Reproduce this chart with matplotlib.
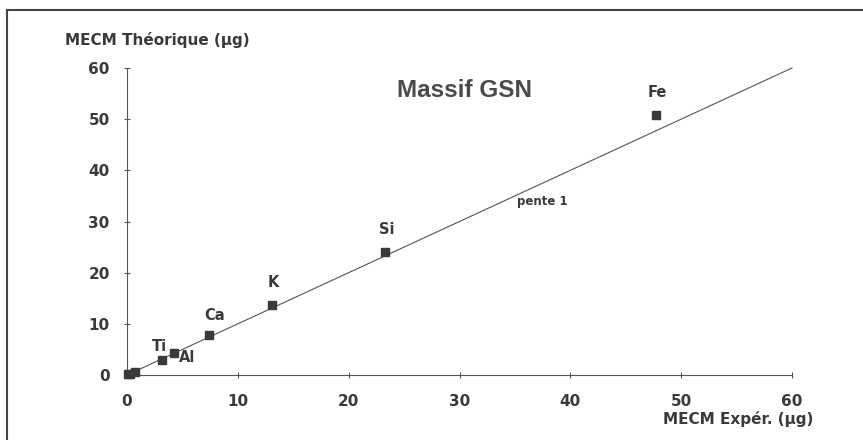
import numpy as np
import matplotlib
matplotlib.use('Agg')
import matplotlib.pyplot as plt
from matplotlib.lines import Line2D

# Données (MECM expérimentale vs théorique, en µg)
elements = ['', '', '', 'Ti', 'Al', 'Ca', 'K', 'Si', 'Fe']
mecm_exp = [0.1, 0.3, 0.7, 3.2, 4.2, 7.4, 13.1, 23.3, 47.7]
mecm_theo = [0.1, 0.2, 0.5, 2.9, 4.3, 7.8, 13.7, 24.0, 50.8]
# décalage des étiquettes (points)
label_dx = [0, 0, 0, -2, 10, 4, 1, 1, 1]
label_dy = [0, 0, 0, 10, -3, 14, 16, 16, 16]

pente = [0, 60]
ticks = [0, 10, 20, 30, 40, 50, 60]

gris = '#3a3a3a'
plt.rcParams['font.family'] = ['DejaVu Sans']
plt.rcParams['font.weight'] = 'bold'

fig = plt.figure(figsize=(8.63, 4.4), dpi=100)
ax = fig.add_axes([127/863, 1 - 375/440, 665/863, 307/440])

# droite de pente 1
ax.plot(pente, pente, color='#555555', lw=0.8, clip_on=False)
ax.plot(mecm_exp, mecm_theo, 's', color=gris, ms=6, clip_on=False, zorder=3)

for el, x, y, dx, dy in zip(elements, mecm_exp, mecm_theo, label_dx, label_dy):
    if el:
        ax.annotate(el, (x, y), xytext=(dx, dy), textcoords='offset points',
                    ha='center', va='center', fontsize=10.5, color=gris, fontweight='bold')

ax.set_xlim(0, 60)
ax.set_ylim(0, 60)
ax.set_xticks(ticks)
ax.set_yticks(ticks)
ax.tick_params(direction='inout', length=5, width=0.8, color='#555555',
               labelsize=11, labelcolor=gris)
ax.tick_params(axis='x', pad=11)
ax.tick_params(axis='y', pad=10)
for s in ['top', 'right']:
    ax.spines[s].set_visible(False)
for s in ['left', 'bottom']:
    ax.spines[s].set_color('#555555')
    ax.spines[s].set_linewidth(0.8)

ax.text(0.508, 0.928, 'Massif GSN', transform=ax.transAxes, ha='center', va='center',
        fontsize=17.5, color='#4a4a4a', fontweight='bold', family='Liberation Sans')
ax.text(542/863, 1 - 201/440, 'pente 1', transform=fig.transFigure, ha='center',
        va='center', fontsize=8.5, color=gris, fontweight='bold')

fig.text(65/863, 1 - 40/440, 'MECM Théorique (µg)', ha='left', va='center',
         fontsize=11, color=gris, fontweight='bold')
fig.text(813/863, 1 - 419/440, 'MECM Expér. (µg)', ha='right', va='center',
         fontsize=11, color=gris, fontweight='bold')

# cadre (haut et gauche)
fig.add_artist(Line2D([7/863, 1], [1 - 10/440, 1 - 10/440], transform=fig.transFigure,
                      color='#444444', lw=1.5))
fig.add_artist(Line2D([7/863, 7/863], [0, 1 - 10/440], transform=fig.transFigure,
                      color='#444444', lw=1.5))

fig.savefig('out.png', dpi=100)
